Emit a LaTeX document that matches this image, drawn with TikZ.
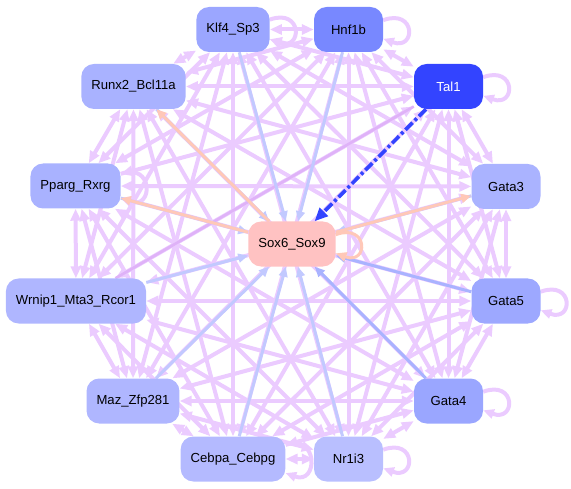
\documentclass[tikz,border=0pt]{standalone}
\usepackage{fontspec}
\setmainfont{Liberation Sans}
\usetikzlibrary{arrows.meta,backgrounds}
\definecolor{hubc}{HTML}{FFC2C2}
\definecolor{linkc}{HTML}{EBCBFF}
\definecolor{linkdark}{HTML}{DFB2F8}
\definecolor{tosoxc}{HTML}{C2C9FF}
\definecolor{tosoxdark}{HTML}{A9B3FF}
\definecolor{fromsoxc}{HTML}{FFC8B8}
\definecolor{talc}{HTML}{3344FF}

\begin{document}
\begin{tikzpicture}[x=0.03cm, y=0.03cm,
  tf/.style={rounded corners=0.38cm, minimum width=2.07cm, minimum height=1.35cm,
             inner xsep=0.3cm, font=\fontsize{11.2}{13}\selectfont},
  link/.style={line width=0.12cm, linkc,
               {Triangle[length=0.36cm,width=0.3cm]}-{Triangle[length=0.36cm,width=0.3cm]}},
  tosox/.style={line width=0.09cm, tosoxc, -{Triangle[length=0.3cm,width=0.26cm]}},
  fromsox/.style={line width=0.09cm, fromsoxc, -{Triangle[length=0.3cm,width=0.26cm]}},
  selfloop/.style={line width=0.12cm, linkc, -{Triangle[length=0.32cm,width=0.28cm]},
                   out=20, in=-20, distance=1.05cm},
]

\useasboundingbox (0,0) rectangle (571,-489);

\node[tf, fill=hubc] (sox) at (292,-244) {Sox6\_Sox9};

\node[tf, fill={rgb,255:red,155;green,166;blue,255}] (klf) at (233,-29.5) {Klf4\_Sp3};
\node[tf, fill={rgb,255:red,120;green,136;blue,255}] (hnf) at (348.5,-29.5) {Hnf1b};
\node[tf, fill=talc, text=white] (tal) at (448.5,-86.5) {Tal1};
\node[tf, fill={rgb,255:red,170;green,179;blue,255}] (gata3) at (506,-186.5) {Gata3};
\node[tf, fill={rgb,255:red,157;green,168;blue,255}] (gata5) at (506,-301) {Gata5};
\node[tf, fill={rgb,255:red,154;green,166;blue,255}] (gata4) at (448.5,-401) {Gata4};
\node[tf, fill={rgb,255:red,185;green,191;blue,255}] (nr) at (348.5,-459) {Nr1i3};
\node[tf, fill={rgb,255:red,180;green,186;blue,255}] (cebpa) at (233,-459) {Cebpa\_Cebpg};
\node[tf, fill={rgb,255:red,175;green,182;blue,255}] (maz) at (133,-401) {Maz\_Zfp281};
\node[tf, fill={rgb,255:red,175;green,182;blue,255}] (wrnip) at (76,-301) {Wrnip1\_Mta3\_Rcor1};
\node[tf, fill={rgb,255:red,169;green,178;blue,255}] (pparg) at (75.5,-186) {Pparg\_Rxrg};
\node[tf, fill={rgb,255:red,169;green,178;blue,255}] (runx) at (133.5,-86.5) {Runx2\_Bcl11a};

\begin{pgfonlayer}{background}
% all pairs of the outer ring
\foreach \a [count=\i] in {klf,hnf,tal,gata3,gata5,gata4,nr,cebpa,maz,wrnip,pparg,runx}
  \foreach \b [count=\j] in {klf,hnf,tal,gata3,gata5,gata4,nr,cebpa,maz,wrnip,pparg,runx}
    {\ifnum\i<\j \draw[link] (\a) -- (\b);\fi}
\draw[linkdark, line width=0.08cm] (wrnip) -- (tal);

% self loops
\foreach \n in {klf,hnf,tal,gata5,gata4,nr,cebpa,pparg}
  \draw[selfloop] (\n.15) to (\n.-15);

% into the hub
\foreach \n in {klf,hnf,gata3,nr,cebpa,maz,wrnip,pparg,runx}
  \draw[tosox] (\n) -- (sox);
\draw[tosox, tosoxdark] (gata5) -- (sox);
\draw[tosox, tosoxdark] (gata4) -- (sox);
\draw[line width=0.11cm, talc, dash pattern=on 0.3cm off 0.09cm on 0.09cm off 0.09cm,
      -{Triangle[length=0.4cm,width=0.34cm]}] (tal) -- (sox);

% out of the hub
\draw[fromsox] (sox) -- (runx);
\draw[fromsox] (sox) -- (pparg);
\draw[fromsox] (sox) -- (gata3);
\draw[selfloop, fromsoxc, line width=0.09cm] (sox.12) to (sox.-12);
\end{pgfonlayer}

\end{tikzpicture}
\end{document}
